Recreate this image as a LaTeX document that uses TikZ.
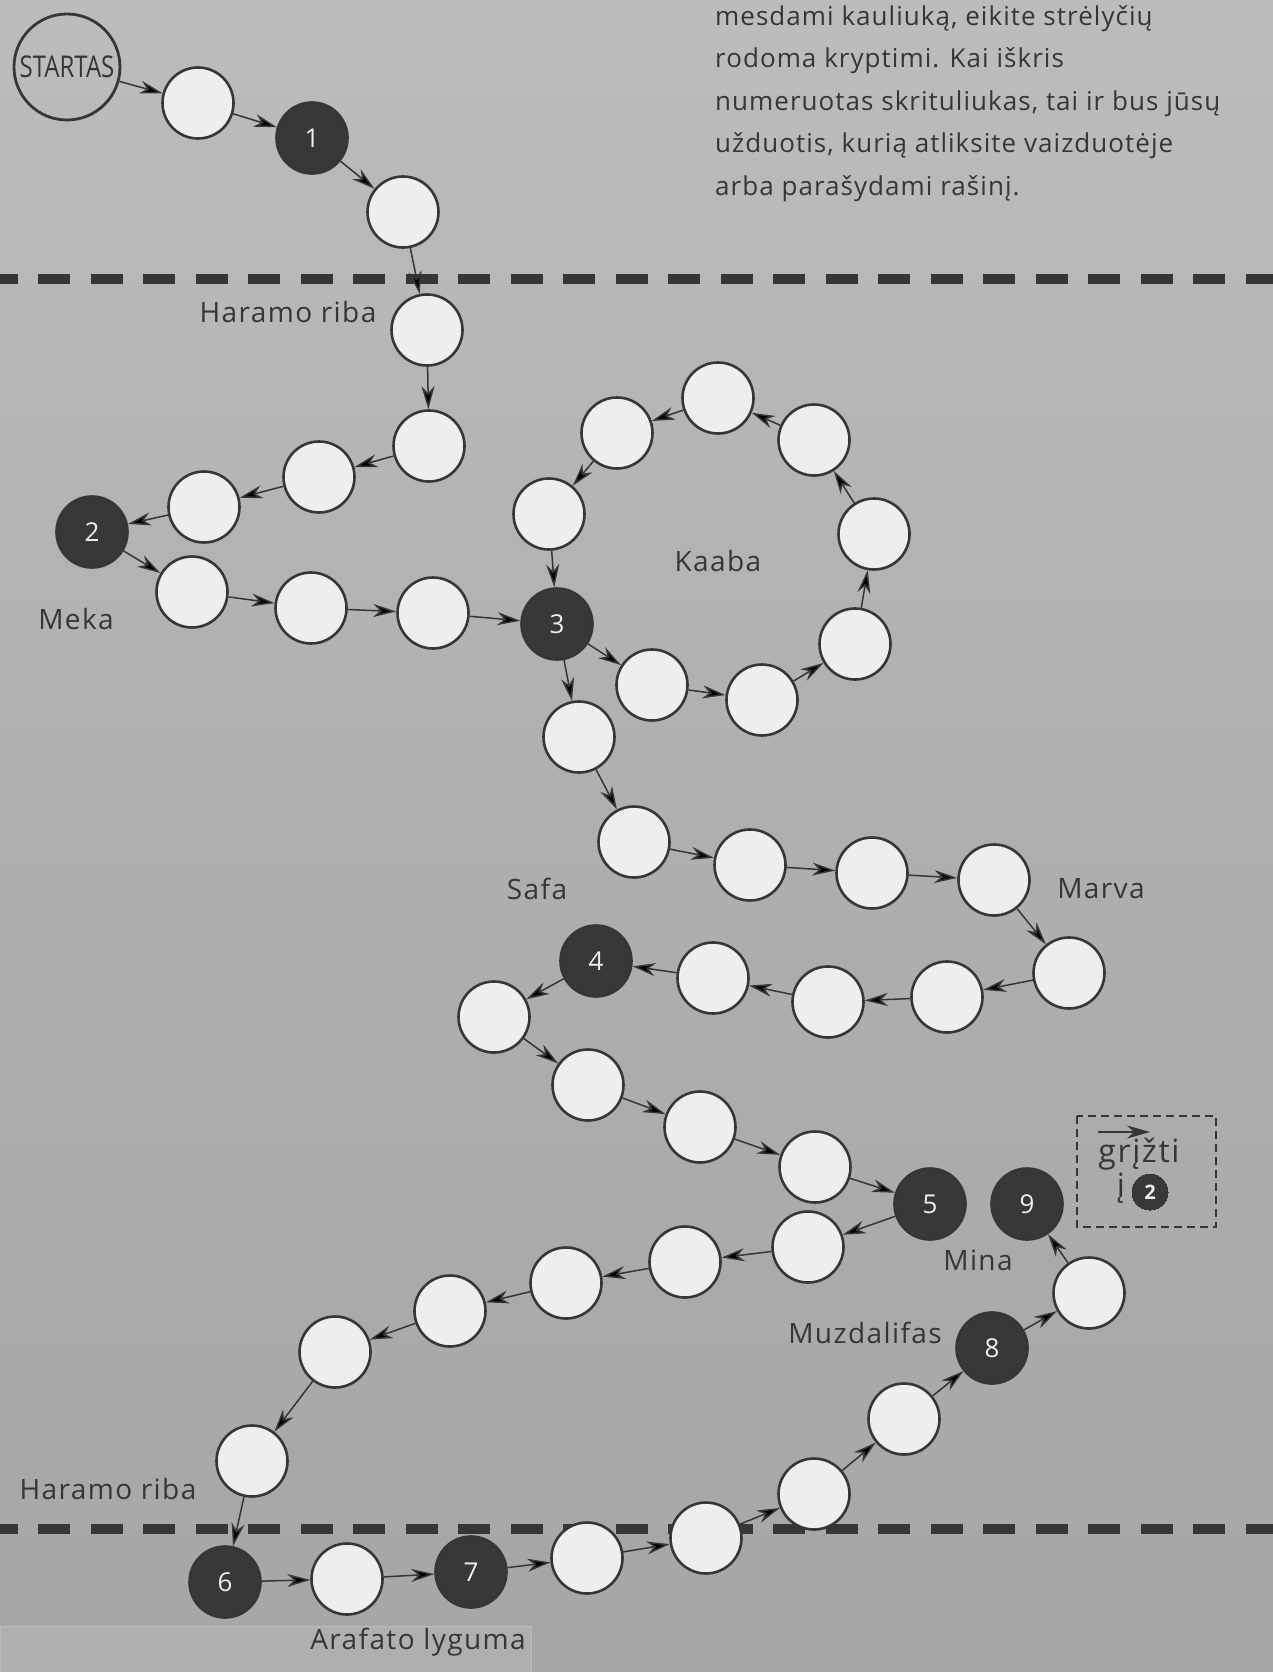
\documentclass[tikz,border=0pt]{standalone}
\usepackage{fontspec}
\setmainfont{Open Sans}
\newfontfamily\narrowfont[FakeStretch=0.8]{Open Sans}
\newfontfamily\labelfont[LetterSpace=5]{Open Sans}
\newfontfamily\introfont[LetterSpace=4]{Open Sans}
\usetikzlibrary{arrows.meta}
\definecolor{paper}{RGB}{166,166,166}
\definecolor{paperlight}{RGB}{188,188,188}
\definecolor{ink}{RGB}{54,54,54}
\definecolor{disc}{RGB}{238,238,238}
\definecolor{darkdisc}{RGB}{56,56,56}

\begin{document}
\begin{tikzpicture}[x=1pt, y=-1pt,
	every node/.style={font=\labelfont\fontsize{28}{32}\selectfont, text=ink},
	spot/.style={circle, draw=ink, line width=2.6pt, fill=disc, minimum size=71pt, inner sep=0pt},
	task/.style={spot, fill=darkdisc, text=disc, font=\fontsize{26}{30}\selectfont},
	link/.style={-{Stealth[length=23pt,width=13pt,inset=7pt]}, draw=ink, line width=1.5pt},
	border/.style={draw=ink, line width=10pt, dash pattern=on 32pt off 20.5pt, dash phase=14.5pt}]
	\useasboundingbox (0,0) rectangle (1273,1672);
	\shade[top color=paperlight, bottom color=paper, middle color=paper!60!paperlight] (0,0) rectangle (1273,1672);
	\fill[paper!90!white, draw=paperlight, line width=1pt] (0,1626) rectangle (531,1672);
	\draw[border] (0,279) -- (1273,279);
	\draw[border] (0,1529) -- (1273,1529);

	\node[anchor=north west, align=left, inner sep=0pt, font=\introfont\fontsize{26}{42.5}\selectfont] (intro) at (715,5) {mesdami kauliuką, eikite strėlyčių\\rodoma kryptimi. Kai iškris\\numeruotas skrituliukas, tai ir bus jūsų\\užduotis, kurią atliksite vaizduotėje\\arba parašydami rašinį.};

	\node[spot, fill=none, line width=2.8pt, minimum size=106pt, font=\narrowfont\fontsize{30}{32}\selectfont] (start) at (67,67) {STARTAS};
	\node[spot] (w1) at (198,103) {};
	\node[task] (d1) at (312,138) {1};
	\node[spot] (w2) at (403,212) {};
	\node[spot] (w3) at (427,330) {};
	\node[spot] (w4) at (429,446) {};
	\node[spot] (w5) at (319,477) {};
	\node[spot] (w6) at (204,507) {};
	\node[task] (d2) at (92,532) {2};
	\node[spot] (w7) at (192,592) {};
	\node[spot] (w8) at (311,608) {};
	\node[spot] (w9) at (433,613) {};
	\node[task] (d3) at (557,624) {3};
	\node[spot] (w10) at (652,685) {};
	\node[spot] (w11) at (762,700) {};
	\node[spot] (w12) at (855,644) {};
	\node[spot] (w13) at (874,534) {};
	\node[spot] (w14) at (814,440) {};
	\node[spot] (w15) at (718,398) {};
	\node[spot] (w16) at (617,433) {};
	\node[spot] (w17) at (549,514) {};
	\node[spot] (w18) at (579,737) {};
	\node[spot] (w19) at (634,842) {};
	\node[spot] (w20) at (750,865) {};
	\node[spot] (w21) at (872,873) {};
	\node[spot] (w22) at (994,880) {};
	\node[spot] (w23) at (1069,973) {};
	\node[spot] (w24) at (947,997) {};
	\node[spot] (w25) at (828,1002) {};
	\node[spot] (w26) at (713,978) {};
	\node[task] (d4) at (596,961) {4};
	\node[spot] (w27) at (494,1017) {};
	\node[spot] (w28) at (588,1085) {};
	\node[spot] (w29) at (700,1127) {};
	\node[spot] (w30) at (815,1167) {};
	\node[task] (d5) at (930,1204) {5};
	\node[spot] (w31) at (808,1247) {};
	\node[spot] (w32) at (685,1262) {};
	\node[spot] (w33) at (566,1283) {};
	\node[spot] (w34) at (450,1311) {};
	\node[spot] (w35) at (335,1352) {};
	\node[spot] (w36) at (252,1461) {};
	\node[task] (d6) at (225,1582) {6};
	\node[spot] (w37) at (347,1579) {};
	\node[task] (d7) at (471,1572) {7};
	\node[spot] (w38) at (587,1558) {};
	\node[spot] (w39) at (706,1538) {};
	\node[spot] (w40) at (814,1494) {};
	\node[spot] (w41) at (904,1419) {};
	\node[task] (d8) at (992,1348) {8};
	\node[spot] (w42) at (1089,1293) {};
	\node[task] (d9) at (1027,1204) {9};

	\node (haram1) at (288,312) {Haramo riba};
	\node (meka) at (76,619) {Meka};
	\node (kaaba) at (718,561) {Kaaba};
	\node (safa) at (537,889) {Safa};
	\node (marva) at (1101,889) {Marva};
	\node (mina) at (978,1260) {Mina};
	\node (muzd) at (865,1333) {Muzdalifas};
	\node (haram2) at (108,1489) {Haramo riba};
	\node (arafat) at (418,1642) {Arafato lyguma};

	\draw[ink, line width=1.6pt, dash pattern=on 8pt off 5pt] (1077,1116) rectangle (1216,1227);
	\node[font=\labelfont\fontsize{32}{34}\selectfont] (back) at (1139,1154) {grįžti};
	\node[font=\labelfont\fontsize{32}{34}\selectfont] (into) at (1121,1188) {į};
	\node[task, line width=0pt, minimum size=36pt, font=\bfseries\fontsize{20}{22}\selectfont] (mark) at (1150,1192) {2};
	\coordinate (ra) at (1098,1132);
	\coordinate (rb) at (1150,1132);
	\draw[link] (ra) -- (rb);

	\path[link]
		(start) edge (w1) (w1) edge (d1) (d1) edge (w2) (w2) edge (w3) (w3) edge (w4)
		(w4) edge (w5) (w5) edge (w6) (w6) edge (d2) (d2) edge (w7) (w7) edge (w8)
		(w8) edge (w9) (w9) edge (d3) (d3) edge (w10) (w10) edge (w11) (w11) edge (w12)
		(w12) edge (w13) (w13) edge (w14) (w14) edge (w15) (w15) edge (w16) (w16) edge (w17)
		(w17) edge (d3) (d3) edge (w18) (w18) edge (w19) (w19) edge (w20) (w20) edge (w21)
		(w21) edge (w22) (w22) edge (w23) (w23) edge (w24) (w24) edge (w25) (w25) edge (w26)
		(w26) edge (d4) (d4) edge (w27) (w27) edge (w28) (w28) edge (w29) (w29) edge (w30)
		(w30) edge (d5) (d5) edge (w31) (w31) edge (w32) (w32) edge (w33) (w33) edge (w34)
		(w34) edge (w35) (w35) edge (w36) (w36) edge (d6) (d6) edge (w37) (w37) edge (d7)
		(d7) edge (w38) (w38) edge (w39) (w39) edge (w40) (w40) edge (w41) (w41) edge (d8)
		(d8) edge (w42) (w42) edge (d9);
\end{tikzpicture}
\end{document}
